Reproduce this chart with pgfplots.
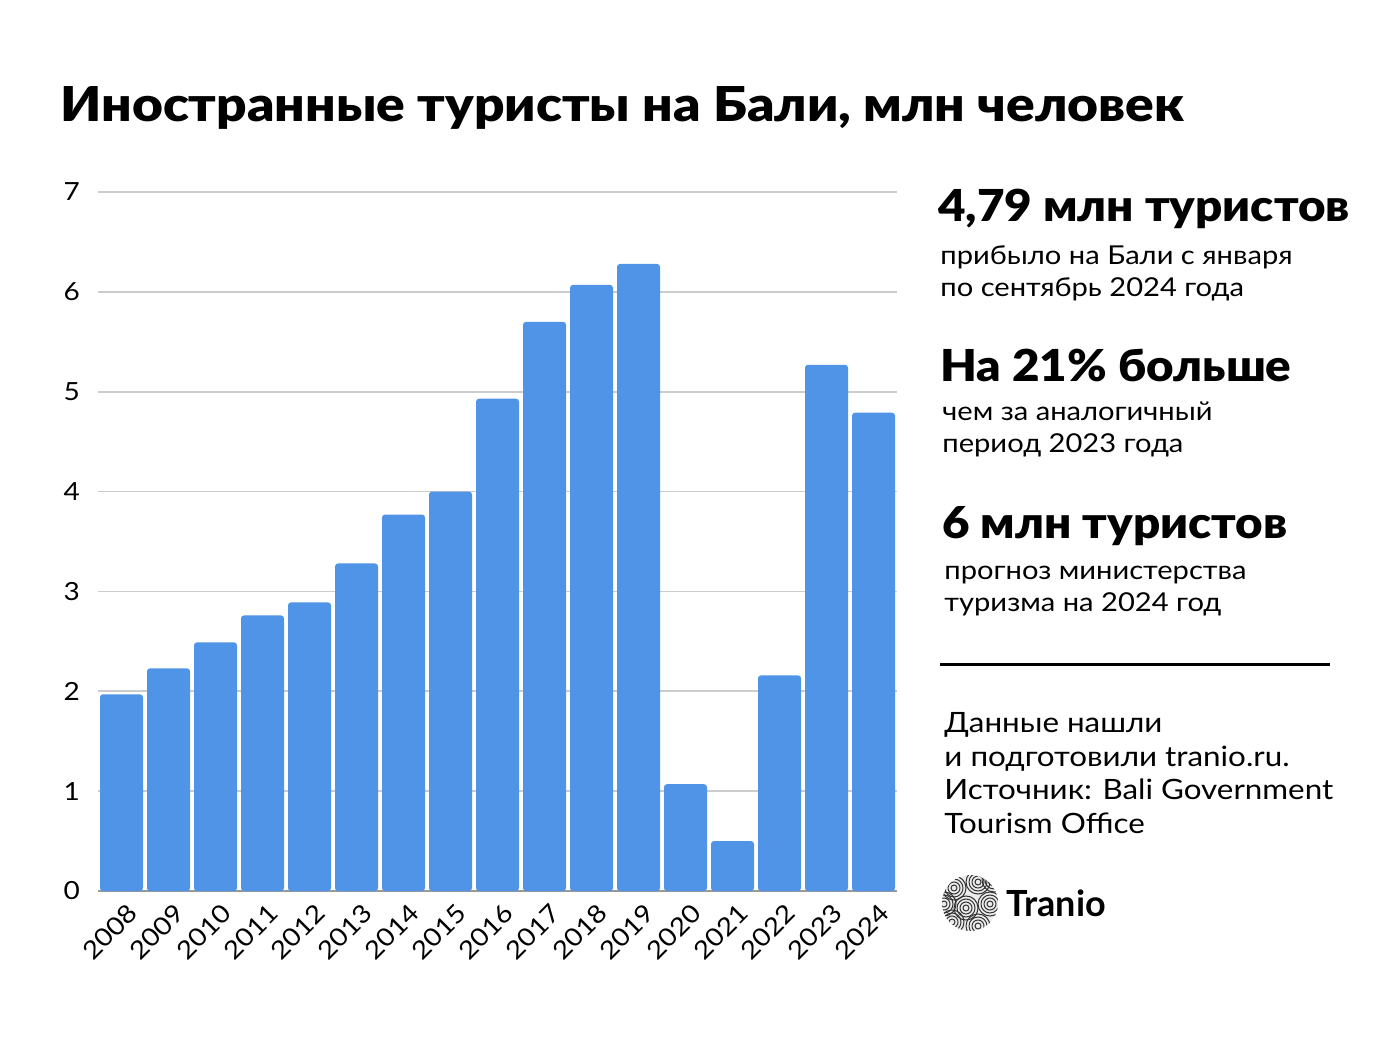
\documentclass[border=0pt]{standalone}
\usepackage{pgfplots}
\pgfplotsset{compat=1.18}
\usepackage{fontspec}
\setmainfont{Lato}[FakeStretch=1.12]
\newfontfamily\heavy{Lato Black}[FakeStretch=1.08]
\newfontfamily\titlefont{Lato Black}[FakeStretch=1.11]
\newfontfamily\plainlato{Lato}
\definecolor{barblue}{RGB}{79,148,230}
\definecolor{gridgray}{RGB}{204,204,204}
\begin{document}
\begin{tikzpicture}
\useasboundingbox (0,0) rectangle (693pt,520pt);
\begin{axis}[
  at={(49pt,74.5pt)}, anchor=south west,
  scale only axis, width=399.5pt, height=349.5pt,
  xmin=-0.5, xmax=16.5, ymin=0, ymax=7,
  ybar, bar width=21.5pt, bar shift=0pt,
  axis x line*=bottom, axis y line*=left,
  separate axis lines,
  x axis line style={draw=gray!80, line width=0.8pt, -},
  y axis line style={draw=none},
  ytick={0,1,...,7}, ymajorgrids, grid style={gridgray, line width=0.8pt},
  xtick={0,...,16},
  xticklabels={2008,2009,2010,2011,2012,2013,2014,2015,2016,2017,2018,2019,2020,2021,2022,2023,2024},
  x tick label style={xshift=2.5pt, yshift=-5.5pt, rotate=45, anchor=north east, font=\fontsize{12.5}{13}\selectfont, inner sep=0pt},
  y tick label style={font=\fontsize{12.5}{13}\selectfont, anchor=east, xshift=-5.5pt},
  /pgf/number format/assume math mode=true,
  major tick length=0pt,
  clip=false,
]
\addplot[fill=barblue, draw=none, rounded corners=1.5pt] coordinates {
(0,1.97) (1,2.23) (2,2.49) (3,2.76) (4,2.89) (5,3.28) (6,3.77) (7,4.00)
(8,4.93) (9,5.70) (10,6.07) (11,6.28) (12,1.07) (13,0.50) (14,2.16) (15,5.27) (16,4.79)};
\end{axis}
\node[anchor=base west, font=\fontsize{24}{28}\selectfont\titlefont, inner sep=0pt] at (30pt,459pt) {Иностранные туристы на Бали, млн человек};
\node[anchor=base west, font=\fontsize{22}{26}\selectfont\heavy, inner sep=0pt] at (469pt,409pt) {4,79 млн туристов};
\node[anchor=base west, font=\fontsize{13}{16}\selectfont, inner sep=0pt] at (470pt,387.5pt) {прибыло на Бали с января};
\node[anchor=base west, font=\fontsize{13}{16}\selectfont, inner sep=0pt] at (470pt,371.5pt) {по сентябрь 2024 года};
\node[anchor=base west, font=\fontsize{22}{26}\selectfont\heavy, inner sep=0pt] at (470pt,329pt) {На 21\% больше};
\node[anchor=base west, font=\fontsize{13}{16}\selectfont, inner sep=0pt] at (471pt,309.5pt) {чем за аналогичный};
\node[anchor=base west, font=\fontsize{13}{16}\selectfont, inner sep=0pt] at (471pt,293.5pt) {период 2023 года};
\node[anchor=base west, font=\fontsize{22}{26}\selectfont\heavy, inner sep=0pt] at (471pt,251pt) {6 млн туристов};
\node[anchor=base west, font=\fontsize{13}{16}\selectfont, inner sep=0pt] at (472pt,230pt) {прогноз министерства};
\node[anchor=base west, font=\fontsize{13}{16}\selectfont, inner sep=0pt] at (472pt,214.5pt) {туризма на 2024 год};
\draw[line width=1.5pt] (470pt,188pt) -- (665pt,188pt);
\node[anchor=base west, font=\fontsize{14}{17}\selectfont, inner sep=0pt] at (472pt,154pt) {Данные нашли};
\node[anchor=base west, font=\fontsize{14}{17}\selectfont, inner sep=0pt] at (472pt,137pt) {и подготовили tranio.ru.};
\node[anchor=base west, font=\fontsize{14}{17}\selectfont, inner sep=0pt] at (472pt,120.5pt) {Источник: Bali Government};
\node[anchor=base west, font=\fontsize{14}{17}\selectfont, inner sep=0pt] at (472pt,103.5pt) {Tourism Office};
% logo
\begin{scope}
\clip (485pt,68.5pt) circle (14pt);
\fill[gray!15] (485pt,68.5pt) circle (14pt);
\foreach \cx/\cy in {477/76, 489/79, 495/68, 483/66, 476/59, 489/57, 497/80, 472/68}{
  \foreach \r in {1.5,3,4.5,6}{
    \draw[line width=0.5pt, black!80] (\cx pt,\cy pt) circle (\r pt);
  }
}
\end{scope}
\node[anchor=base west, font=\fontsize{18}{22}\selectfont\plainlato\bfseries, inner sep=0pt] at (503pt,62pt) {Tranio};
\end{tikzpicture}
\end{document}
